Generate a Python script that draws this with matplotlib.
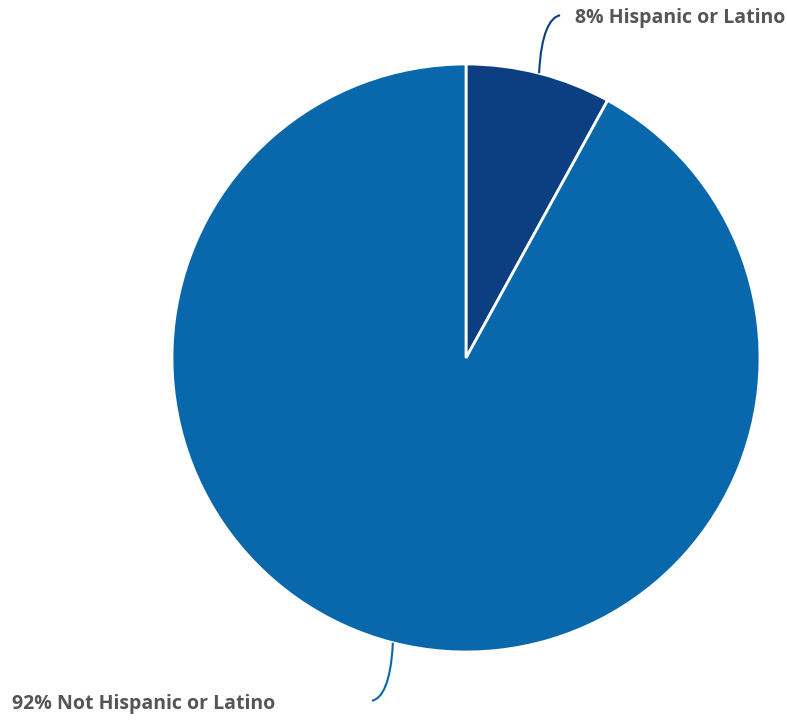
import numpy as np
import matplotlib.pyplot as plt
from matplotlib.path import Path
from matplotlib.patches import PathPatch

labels = ["Hispanic or Latino", "Not Hispanic or Latino"]
shares = [8, 92]
colors = ["#0b3f82", "#0868ab"]

W, H = 787, 724
fig = plt.figure(figsize=(W / 100, H / 100), dpi=100)
ax = fig.add_axes([0, 0, 1, 1])

cx, cy, r = 466, H - 358, 294
wedges, _ = ax.pie(shares, colors=colors, startangle=90, counterclock=False,
                   center=(cx, cy), radius=r,
                   wedgeprops=dict(edgecolor="white", linewidth=2))
ax.set_xlim(0, W)
ax.set_ylim(0, H)
ax.set_aspect("equal")
ax.axis("off")

# leader lines: start on the wedge rim at the mid angle, curve out to the label
for w, lab, val in zip(wedges, labels, shares):
    mid = np.deg2rad((w.theta1 + w.theta2) / 2)
    ux, uy = np.cos(mid), np.sin(mid)
    x0, y0 = cx + r * ux, cy + r * uy
    side = 1 if ux > 0 else -1
    sy = np.sign(uy)
    x1, y1 = x0 + 8 * ux, y0 + 42 * uy
    x3, y3 = x0 + 21 * side, y0 + 58 * sy
    verts = [(x0, y0), (x1, y1), (x3 - 10 * side, y3 - 2 * sy), (x3, y3)]
    codes = [Path.MOVETO, Path.CURVE4, Path.CURVE4, Path.CURVE4]
    ax.add_patch(PathPatch(Path(verts, codes), fill=False, edgecolor=w.get_facecolor(),
                           lw=1.5))
    tx = x3 + 15 if side > 0 else 12
    ax.text(tx, y3 - 3, f"{val}% {lab}", ha="left", va="center",
            fontsize=14, fontweight="bold", color="#555555", family="Open Sans")

fig.savefig("out.png", dpi=100)
